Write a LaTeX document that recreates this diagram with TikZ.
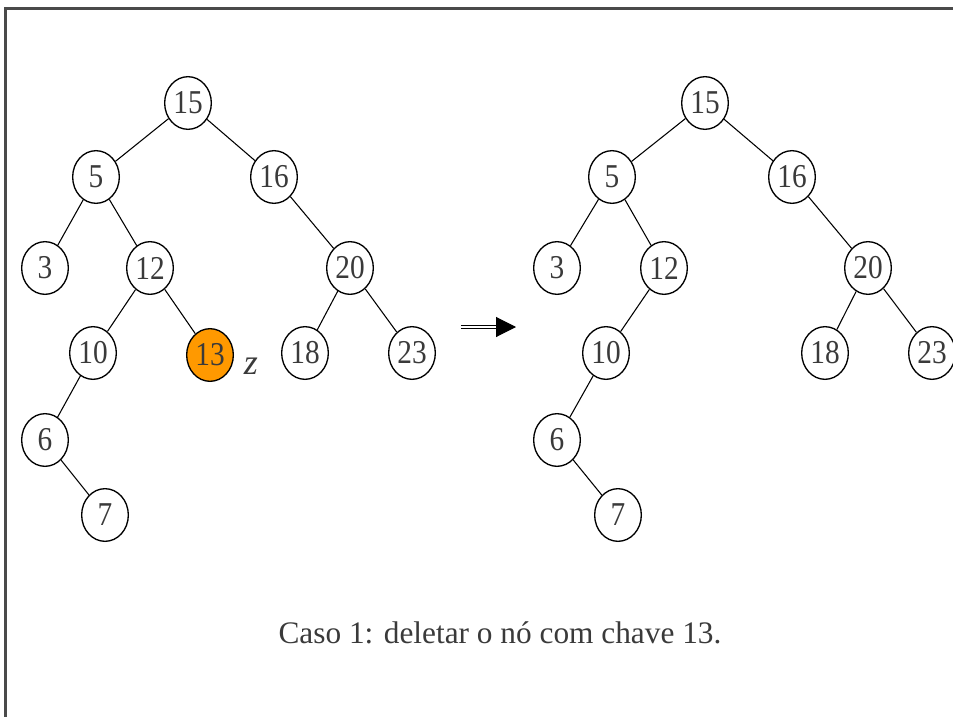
\documentclass[tikz,border=0pt]{standalone}
\usepackage{fontspec}
\setmainfont{Liberation Serif}
\newfontfamily\keyfont[FakeStretch=0.88]{Liberation Serif}
\usetikzlibrary{shapes.geometric,arrows.meta}
\definecolor{KeyText}{HTML}{3A3A3A}
\definecolor{FrameGray}{HTML}{4A4A4A}
\definecolor{DelOrange}{HTML}{FF9900}

\tikzset{
    key/.style={ellipse, draw=black, line width=1pt, minimum width=35pt, minimum height=39.5pt,
        inner sep=0pt, text=KeyText, font=\keyfont\fontsize{25}{27}\selectfont},
    removed/.style={key, fill=DelOrange},
    branch/.style={black, line width=0.8pt}
}

\begin{document}
\begin{tikzpicture}[x=0.75pt, y=-0.75pt]
    % =========================================
    % 1. moldura (so topo e lado esquerdo)
    % =========================================
    \useasboundingbox (0,0) rectangle (953,717);
    \draw[FrameGray, line width=2pt] (5.5,717) -- (5.5,8.5) -- (953,8.5);

    % =========================================
    % 2. arvore antes da remocao
    % =========================================
    \node[key] (L15) at (188,103) {15};
    \node[key] (L5)  at (96,177)  {5};
    \node[key] (L16) at (274,177) {16};
    \node[key] (L3)  at (45,268)  {3};
    \node[key] (L12) at (150,268) {12};
    \node[key] (L20) at (350,268) {20};
    \node[key] (L10) at (93,353)  {10};
    \node[removed] (L13) at (210,355) {13};
    \node[key] (L18) at (305,353) {18};
    \node[key] (L23) at (412,353) {23};
    \node[key] (L6)  at (45,440)  {6};
    \node[key] (L7)  at (105,515) {7};

    % rotulo do no a remover
    \node[text=KeyText, font=\fontsize{27}{29}\selectfont\itshape] (Zlabel) at (251,366) {z};

    \draw[branch] (L15) -- (L5);
    \draw[branch] (L15) -- (L16);
    \draw[branch] (L5) -- (L3);
    \draw[branch] (L5) -- (L12);
    \draw[branch] (L16) -- (L20);
    \draw[branch] (L12) -- (L10);
    \draw[branch] (L12) -- (L13);
    \draw[branch] (L20) -- (L18);
    \draw[branch] (L20) -- (L23);
    \draw[branch] (L10) -- (L6);
    \draw[branch] (L6) -- (L7);

    % =========================================
    % 3. seta dupla entre as duas arvores
    % =========================================
    \coordinate (ArrowA) at (461,327);
    \coordinate (ArrowB) at (516,327);
    \draw[double=white, double distance=1.6pt, line width=0.8pt,
          -{Triangle[length=15pt, width=15pt]}] (ArrowA) -- (ArrowB);

    % =========================================
    % 4. arvore depois da remocao
    % =========================================
    \node[key] (R15) at (705,103) {15};
    \node[key] (R5)  at (612,177) {5};
    \node[key] (R16) at (792,177) {16};
    \node[key] (R3)  at (557,268) {3};
    \node[key] (R12) at (664,268) {12};
    \node[key] (R20) at (868,268) {20};
    \node[key] (R10) at (606,353) {10};
    \node[key] (R18) at (825,353) {18};
    \node[key] (R23) at (932,353) {23};
    \node[key] (R6)  at (557,440) {6};
    \node[key] (R7)  at (618,515) {7};

    \draw[branch] (R15) -- (R5);
    \draw[branch] (R15) -- (R16);
    \draw[branch] (R5) -- (R3);
    \draw[branch] (R5) -- (R12);
    \draw[branch] (R16) -- (R20);
    \draw[branch] (R12) -- (R10);
    \draw[branch] (R20) -- (R18);
    \draw[branch] (R20) -- (R23);
    \draw[branch] (R10) -- (R6);
    \draw[branch] (R6) -- (R7);

    % =========================================
    % 5. legenda
    % =========================================
    \node[text=KeyText, font=\fontsize{23.5}{26}\selectfont, anchor=base] (Caption) at (500,643)
        {Caso 1: deletar o nó com chave 13.};

\end{tikzpicture}
\end{document}
